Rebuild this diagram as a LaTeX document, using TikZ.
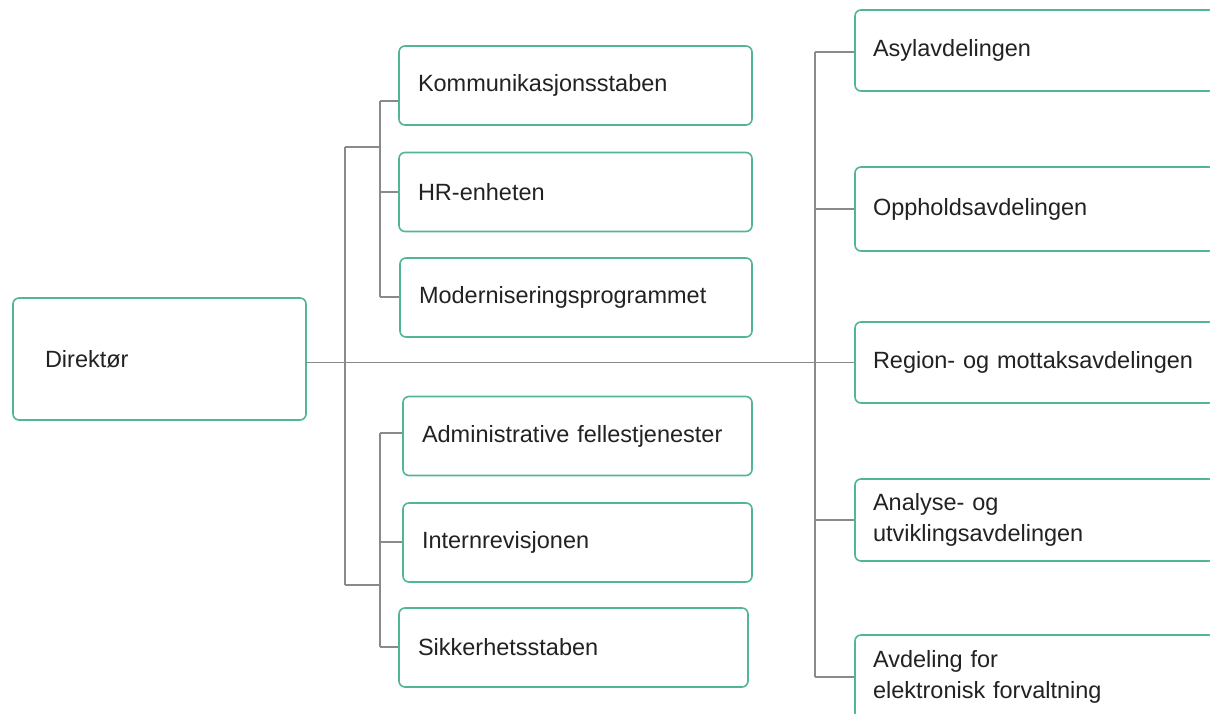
\documentclass[tikz,border=0pt]{standalone}
\usepackage{fontspec}
\setmainfont{Liberation Sans}
\usetikzlibrary{calc}
\definecolor{boxgreen}{HTML}{52B693}
\definecolor{linegray}{HTML}{8A8A8A}
\definecolor{txt}{HTML}{222222}
\tikzset{
  orgbox/.style={draw=boxgreen, line width=1.6pt, rounded corners=6pt, fill=white,
    align=left, text=txt, font=\fontsize{23.5}{31}\selectfont,
    inner ysep=0pt, minimum height=#1},
  orgbox/.default=79pt,
  conn/.style={draw=linegray, line width=1.5pt}
}
\begin{document}
\begin{tikzpicture}[x=1pt,y=-1pt]
\useasboundingbox (0,0) rectangle (1210,713);
\clip (0,0) rectangle (1210,713);
\fill[white] (0,0) rectangle (1210,713);
% junction coordinates
\coordinate (ltop) at (345,147);
\coordinate (lbot) at (345,585);
\coordinate (utop) at (380,101);
\coordinate (umid) at (380,192);
\coordinate (ubot) at (380,297);
\coordinate (dtop) at (380,433);
\coordinate (dmid) at (380,542);
\coordinate (dbot) at (380,647);
\coordinate (rtop) at (815,52);
\coordinate (rbot) at (815,677);
% connectors (drawn first, boxes cover ends)
\begin{scope}[on background layer/.style={}]
\end{scope}
% nodes
\node[orgbox=122pt, inner xsep=32pt, text width=229pt] (dir) at (159.5,359) {Direktør};
\node[orgbox, inner xsep=19pt, text width=315pt] (kom) at (575.5,85.5) {Kommunikasjonsstaben};
\node[orgbox, inner xsep=19pt, text width=315pt] (hr) at (575.5,192) {HR-enheten};
\node[orgbox, inner xsep=19pt, text width=314pt] (mod) at (576,297.5) {Moderniseringsprogrammet};
\node[orgbox, inner xsep=19pt, text width=311pt] (adm) at (577.5,436) {Administrative fellestjenester};
\node[orgbox, inner xsep=19pt, text width=311pt] (int) at (577.5,542.5) {Internrevisjonen};
\node[orgbox, inner xsep=19pt, text width=311pt] (sik) at (573.5,647.5) {Sikkerhetsstaben};
\node[orgbox=81pt, inner xsep=18pt, text width=324pt] (asyl) at (1035,50.5) {Asylavdelingen};
\node[orgbox=84pt, inner xsep=18pt, text width=324pt] (opp) at (1035,209) {Oppholdsavdelingen};
\node[orgbox=81pt, inner xsep=18pt, text width=324pt] (reg) at (1035,362.5) {Region- og mottaksavdelingen};
\node[orgbox=82pt, inner xsep=18pt, text width=324pt] (ana) at (1035,520) {Analyse- og\\utviklingsavdelingen};
\node[orgbox=84pt, inner xsep=18pt, text width=324pt] (avd) at (1035,677) {Avdeling for\\elektronisk forvaltning};
% connectors
\draw[conn] (dir.east |- reg.west) -- (reg.west);
\draw[conn] (ltop) -- (lbot);
\draw[conn] (ltop) -- (ltop -| utop);
\draw[conn] (lbot) -- (lbot -| dtop);
\draw[conn] (utop) -- (ubot);
\draw[conn] (dtop) -- (dbot);
\draw[conn] (utop) -- (utop -| kom.west);
\draw[conn] (umid) -- (umid -| hr.west);
\draw[conn] (ubot) -- (ubot -| mod.west);
\draw[conn] (dtop) -- (dtop -| adm.west);
\draw[conn] (dmid) -- (dmid -| int.west);
\draw[conn] (dbot) -- (dbot -| sik.west);
\draw[conn] (rtop) -- (rbot);
\draw[conn] (rtop) -- (rtop -| asyl.west);
\draw[conn] (rtop |- opp.west) -- (opp.west);
\draw[conn] (rtop |- ana.west) -- (ana.west);
\draw[conn] (rbot) -- (rbot -| avd.west);
\end{tikzpicture}
\end{document}
